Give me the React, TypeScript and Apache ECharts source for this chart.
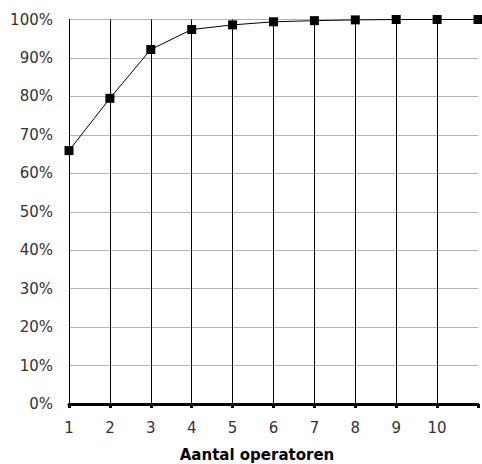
import React, { useEffect, useRef } from "react";
import * as echarts from "echarts";

const categories = ["1", "2", "3", "4", "5", "6", "7", "8", "9", "10", ""];
const values = [65.9, 79.5, 92.2, 97.4, 98.6, 99.4, 99.7, 99.9, 100, 100, 100];
const axisTitle = "Aantal operatoren";

export default function App() {
  const ref = useRef<HTMLDivElement>(null);
  useEffect(() => {
    if (!ref.current) return;
    const chart = echarts.init(ref.current, undefined, { renderer: "svg" });
    chart.setOption({
      animation: false,
      backgroundColor: "#ffffff",
      grid: { left: 69, right: 4, top: 19.5, bottom: 60, containLabel: false },
      xAxis: {
        type: "category",
        data: categories,
        boundaryGap: false,
        axisLine: { show: true, lineStyle: { color: "#000", width: 3 } },
        axisTick: { show: true, length: 4, alignWithLabel: true, lineStyle: { color: "#000", width: 3 } },
        axisLabel: {
          margin: 16,
          color: "#333",
          fontFamily: "DejaVu Sans",
          fontSize: 15,
          interval: 0,
        },
        splitLine: {
          show: true,
          interval: (index: number) => index > 0 && index < categories.length - 1,
          lineStyle: { color: "#000", width: 1 },
        },
      },
      yAxis: {
        type: "value",
        min: 0,
        max: 100,
        interval: 10,
        axisLine: { show: true, lineStyle: { color: "#000", width: 1 } },
        axisTick: { show: false },
        axisLabel: {
          margin: 16,
          color: "#333",
          fontFamily: "DejaVu Sans",
          fontSize: 15,
          formatter: (v: number) => v + "%",
        },
        splitLine: { show: true, lineStyle: { color: "#b4b4b4", width: 1 } },
      },
      graphic: [
        {
          type: "text",
          x: 257,
          y: 455,
          style: {
            text: axisTitle,
            fontFamily: "DejaVu Sans",
            fontWeight: "bold",
            fontSize: 15,
            fill: "#000",
            textAlign: "center",
            textVerticalAlign: "middle",
          },
        },
      ],
      series: [
        {
          type: "line",
          data: values,
          symbol: "rect",
          symbolSize: 9,
          itemStyle: { color: "#000" },
          lineStyle: { color: "#000", width: 1 },
          z: 5,
        },
      ],
    });
    return () => chart.dispose();
  }, []);
  return (
    <div
      ref={ref}
      style={{ position: "fixed", left: 0, top: 0, width: 482, height: 464 }}
    />
  );
}
